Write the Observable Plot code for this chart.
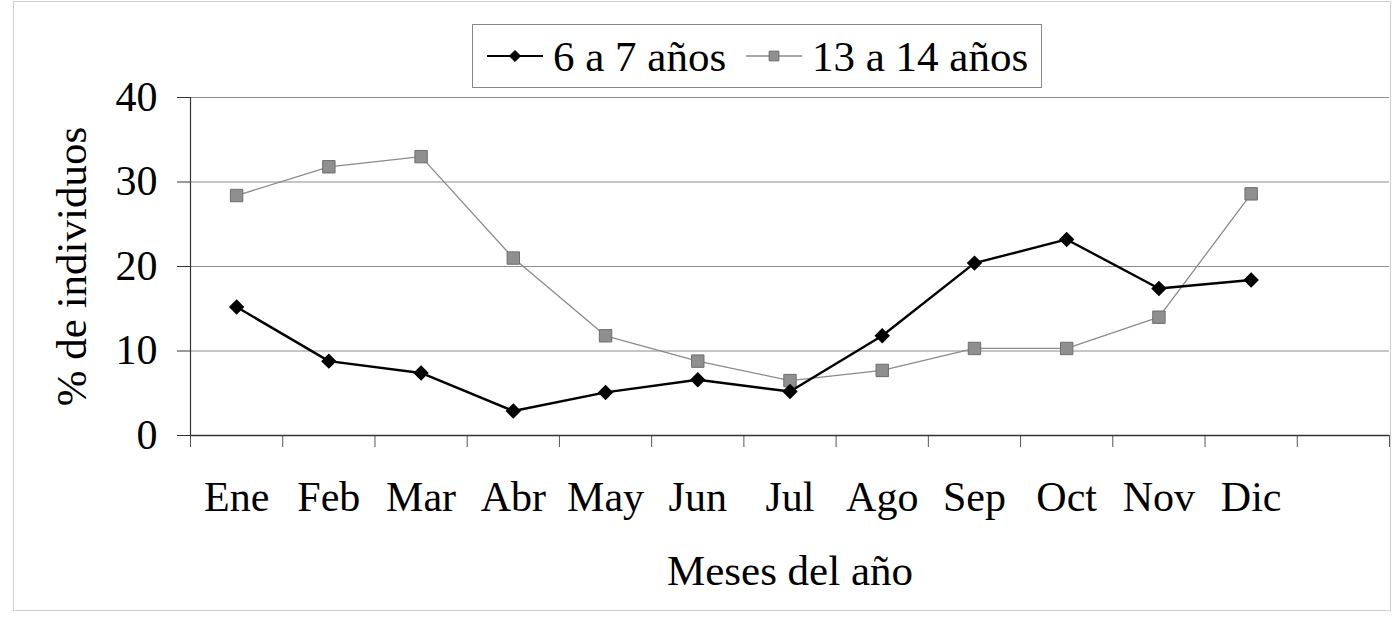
<!DOCTYPE html>
<html>
<head>
<meta charset="utf-8">
<script src="https://cdn.jsdelivr.net/npm/d3@7"></script>
<script src="https://cdn.jsdelivr.net/npm/@observablehq/plot@0.6"></script>
<style>
  body { margin: 0; background: #fff; }
  #wrap { position: relative; width: 1394px; height: 626px; font-family: "Liberation Serif", serif; }
  #frame { position: absolute; left: 13px; top: 1px; width: 1378px; height: 610px; border: 1px solid #d0d0d0; box-sizing: border-box; }
  #legend { position: absolute; left: 472px; top: 24px; width: 570px; height: 64px; border: 1px solid #888; box-sizing: border-box; background: #fff; }
  #legend .item { position: absolute; top: 0; height: 62px; display: flex; align-items: center; font-family: "Liberation Serif", serif; font-size: 43px; color: #000; white-space: nowrap; }
  #legend svg { display: block; }
  svg text { font-family: "Liberation Serif", serif; }
</style>
</head>
<body>
<div id="wrap">
  <div id="frame"></div>
  <div id="chart"></div>
  <div id="legend"></div>
</div>
<script>
const months = ["Ene", "Feb", "Mar", "Abr", "May", "Jun", "Jul", "Ago", "Sep", "Oct", "Nov", "Dic"];
const seriesNames = ["6 a 7 años", "13 a 14 años"];
const values6a7 = [15.2, 8.8, 7.4, 2.9, 5.1, 6.6, 5.2, 11.8, 20.4, 23.2, 17.4, 18.4];
const values13a14 = [28.4, 31.8, 33.0, 21.0, 11.8, 8.8, 6.5, 7.7, 10.3, 10.3, 14.0, 28.6];
const yTicks = [0, 10, 20, 30, 40];

const s1 = months.map((m, i) => ({ pos: i + 0.5, value: values6a7[i], series: seriesNames[0] }));
const s2 = months.map((m, i) => ({ pos: i + 0.5, value: values13a14[i], series: seriesNames[1] }));

const serif = "'Liberation Serif', serif";

const chart = Plot.plot({
  width: 1394,
  height: 626,
  marginLeft: 190,
  marginRight: 5,
  marginTop: 97,
  marginBottom: 191,
  style: { fontFamily: serif, background: "transparent" },
  x: { type: "linear", domain: [0, months.length + 1] },
  y: { domain: [0, 40] },
  marks: [
    Plot.gridY(yTicks.filter(d => d > 0), { stroke: "#8c8c8c", strokeOpacity: 1, strokeWidth: 1 }),
    Plot.axisY(yTicks, { tickSize: 13, tickPadding: 20, fontSize: 42, fontFamily: serif, fontVariant: "normal", stroke: "#333", label: null }),
    Plot.axisX(d3.range(0, months.length + 2), { tickSize: 12, tickFormat: () => "", stroke: "#555", label: null }),
    Plot.axisX(months.map((m, i) => i + 0.5), { tickSize: 0, tickPadding: 46, fontSize: 42, fontFamily: serif, tickFormat: d => months[Math.floor(d)], label: null }),
    Plot.ruleX([0], { stroke: "#333", strokeWidth: 1.2 }),
    Plot.ruleY([0], { stroke: "#333", strokeWidth: 1.5 }),
    Plot.text(["Meses del año"], { x: (months.length + 1) / 2, frameAnchor: "bottom", dy: 149, fontSize: 43, fontFamily: serif }),
    Plot.text(["% de individuos"], { frameAnchor: "left", textAnchor: "middle", dx: -118, rotate: -90, fontSize: 43, fontFamily: serif }),
    Plot.line(s2, { x: "pos", y: "value", stroke: "#8a8a8a", strokeWidth: 1.3 }),
    Plot.dot(s2, { x: "pos", y: "value", symbol: "square", r: 7, fill: "#8f8f8f", stroke: "#6e6e6e", strokeWidth: 1 }),
    Plot.line(s1, { x: "pos", y: "value", stroke: "#000", strokeWidth: 2.4 }),
    Plot.dot(s1, { x: "pos", y: "value", symbol: "diamond2", r: 6, fill: "#000", stroke: "#000" })
  ]
});
document.getElementById("chart").appendChild(chart);

// Legend
const legend = document.getElementById("legend");
function addItem(left, symbolType, color, lineColor, lineW, r, label) {
  const item = document.createElement("div");
  item.className = "item";
  item.style.left = left + "px";
  const w = 56, h = 20;
  const svg = d3.create("svg").attr("width", w).attr("height", h).style("margin-right", "10px");
  svg.append("line").attr("x1", 0).attr("x2", w).attr("y1", h / 2).attr("y2", h / 2).attr("stroke", lineColor).attr("stroke-width", lineW);
  const sym = d3.symbol(symbolType === "diamond" ? d3.symbolDiamond2 : d3.symbolSquare, Math.PI * r * r);
  svg.append("path").attr("d", sym()).attr("transform", `translate(${w / 2},${h / 2})`).attr("fill", color).attr("stroke", symbolType === "diamond" ? "#000" : "#6e6e6e");
  item.appendChild(svg.node());
  const span = document.createElement("span");
  span.textContent = label;
  item.appendChild(span);
  legend.appendChild(item);
}
addItem(14, "diamond", "#000", "#000", 2.2, 5, seriesNames[0]);
addItem(273, "square", "#8f8f8f", "#8a8a8a", 1.3, 5.5, seriesNames[1]);
</script>
</body>
</html>
